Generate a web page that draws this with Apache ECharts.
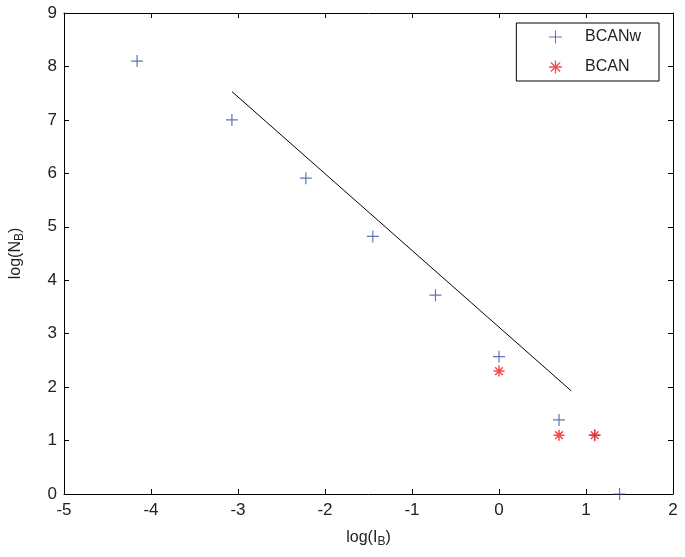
<!DOCTYPE html>
<html><head><meta charset="utf-8">
<script src="https://cdn.jsdelivr.net/npm/echarts@6/dist/echarts.min.js"></script>
<style>html,body{margin:0;padding:0;background:#fff}#c{width:685px;height:557px}</style>
</head><body><div id="c"></div>
<script>
var bcanwX = [-4.16, -3.07, -2.22, -1.45, -0.73, 0.0, 0.69, 1.10, 1.386];
var bcanwY = [8.10, 7.00, 5.91, 4.82, 3.72, 2.57, 1.386, 1.10, 0.0];
var bcanX = [0.0, 0.69, 1.10];
var bcanY = [2.30, 1.10, 1.10];
var fitX = [-3.07, 0.83];
var fitY = [7.53, 1.93];
var xTicks = [-5, -4, -3, -2, -1, 0, 1, 2];
var yTicks = [0, 1, 2, 3, 4, 5, 6, 7, 8, 9];

function zip(a, b) { return a.map(function (v, i) { return [v, b[i]]; }); }

var plus = 'path://M5,0L5,10M0,5L10,5';
var star = 'path://M5,0L5,10M0,5L10,5M1.5,1.5L8.5,8.5M1.5,8.5L8.5,1.5';
var font = 'Liberation Sans';
var blue = '#3a50a8', red = '#f02020';
var chart = echarts.init(document.getElementById('c'));
function axisCommon() {
  return {
    axisLine: { show: true, onZero: false, lineStyle: { color: '#000', width: 1 } },
    axisTick: { show: true, inside: true, length: 5, lineStyle: { color: '#000' } },
    splitLine: { show: false }
  };
}
chart.setOption({
  animation: false,
  grid: { left: 62, right: 12, top: 13, bottom: 63 },
  legend: {
    right: 26, top: 23, orient: 'vertical', align: 'left',
    borderColor: '#000', borderWidth: 1, padding: [6, 18, 6, 32],
    itemWidth: 13, itemHeight: 13, itemGap: 14,
    textStyle: { fontFamily: font, fontSize: 16, color: '#222', padding: [0, 0, 0, 18] },
    data: [
      { name: 'BCANw', icon: plus, itemStyle: { color: 'rgba(0,0,0,0)', borderColor: blue, borderWidth: 1 } },
      { name: 'BCAN', icon: star, itemStyle: { color: 'rgba(0,0,0,0)', borderColor: red, borderWidth: 1.3 } }
    ]
  },
  xAxis: [
    Object.assign({
      type: 'value', min: -5, max: 2, interval: 1, position: 'bottom',
      name: 'log(I{sub|B})', nameLocation: 'middle', nameGap: 34,
      nameTextStyle: { fontFamily: font, fontSize: 16, color: '#222',
        rich: { sub: { fontSize: 12, verticalAlign: 'bottom', padding: [8, 0, 0, 0], fontFamily: font, color: '#222' } } },
      axisLabel: { fontFamily: font, fontSize: 17, color: '#222', margin: 8,
        formatter: function (v) { return xTicks.indexOf(v) >= 0 ? String(v) : ''; } }
    }, axisCommon()),
    Object.assign({
      type: 'value', min: -5, max: 2, interval: 1, position: 'top',
      axisLabel: { show: false }
    }, axisCommon())
  ],
  yAxis: [
    Object.assign({
      type: 'value', min: 0, max: 9, interval: 1, position: 'left',
      name: 'log(N{sub|B})', nameLocation: 'middle', nameGap: 38, nameRotate: 90,
      nameTextStyle: { fontFamily: font, fontSize: 16, color: '#222',
        rich: { sub: { fontSize: 12, fontFamily: font, color: '#222', padding: [8, 0, 0, 0] } } },
      axisLabel: { fontFamily: font, fontSize: 17, color: '#222', margin: 7,
        formatter: function (v) { return yTicks.indexOf(v) >= 0 ? String(v) : ''; } }
    }, axisCommon()),
    Object.assign({
      type: 'value', min: 0, max: 9, interval: 1, position: 'right',
      axisLabel: { show: false }
    }, axisCommon())
  ],
  series: [
    { name: 'fit', type: 'line', data: zip(fitX, fitY), showSymbol: false, symbol: 'none',
      lineStyle: { color: '#000', width: 1 }, silent: true },
    { name: 'BCANw', type: 'scatter', data: zip(bcanwX, bcanwY), symbol: plus, symbolSize: 12,
      itemStyle: { color: 'rgba(0,0,0,0)', borderColor: blue, borderWidth: 1.2 } },
    { name: 'BCAN', type: 'scatter', data: zip(bcanX, bcanY), symbol: star, symbolSize: 11,
      itemStyle: { color: 'rgba(0,0,0,0)', borderColor: red, borderWidth: 1.5 } }
  ]
});
</script></body></html>
